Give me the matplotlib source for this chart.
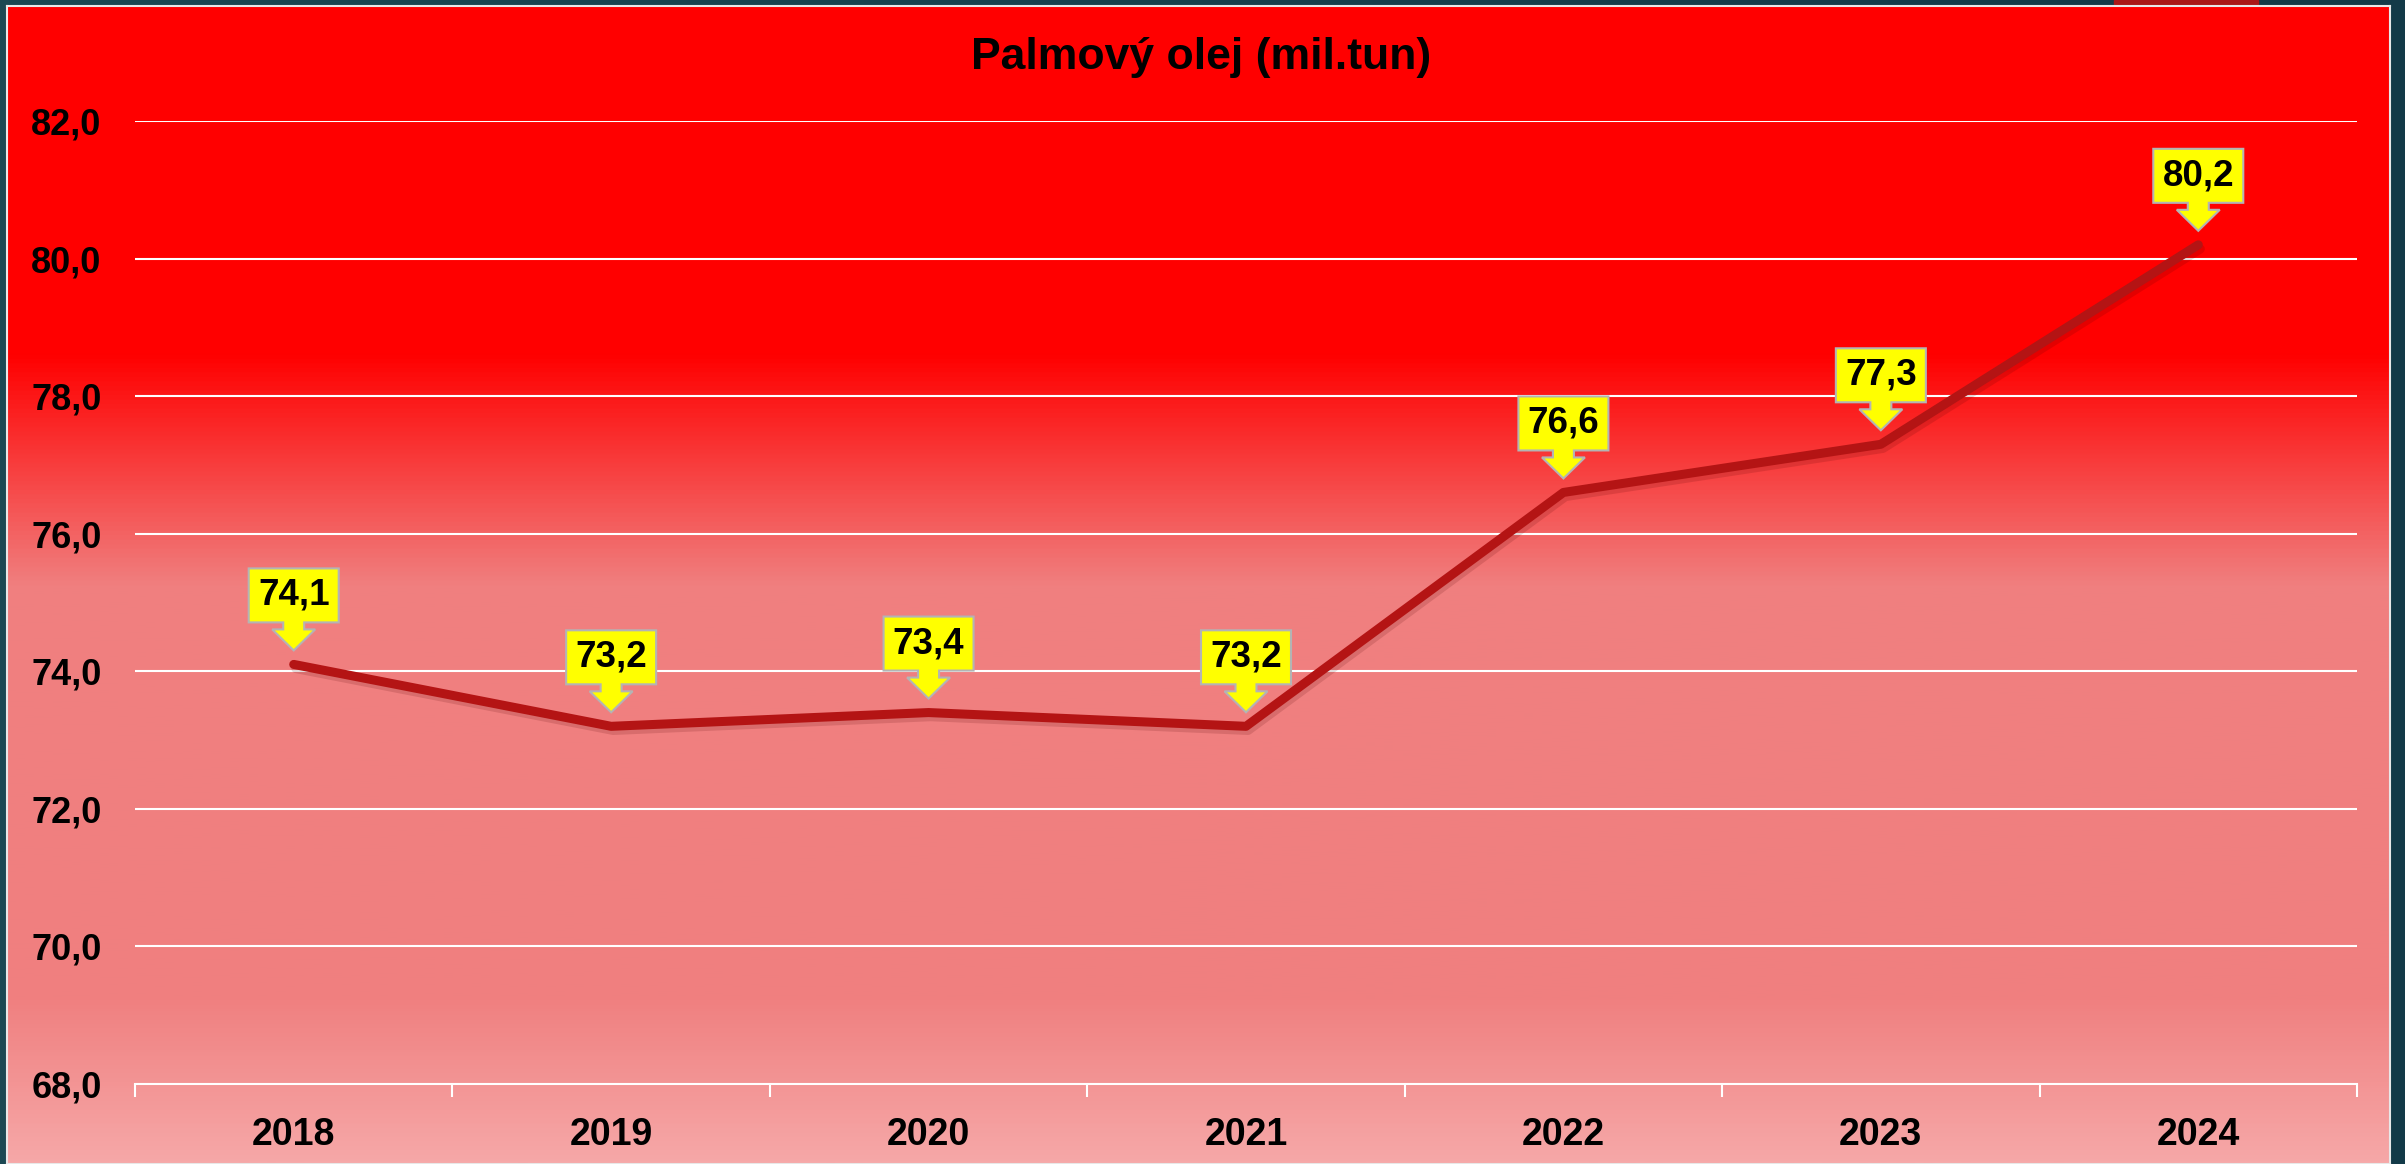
import matplotlib
matplotlib.use("Agg")
import matplotlib.pyplot as plt
import matplotlib.transforms as mtransforms
import matplotlib.patheffects as pe
from matplotlib.colors import LinearSegmentedColormap
from matplotlib.patches import Polygon, Rectangle
import numpy as np

years = ["2018", "2019", "2020", "2021", "2022", "2023", "2024"]
values = [74.1, 73.2, 73.4, 73.2, 76.6, 77.3, 80.2]
labels = ["74,1", "73,2", "73,4", "73,2", "76,6", "77,3", "80,2"]
yticks = [68, 70, 72, 74, 76, 78, 80, 82]
title = "Palmový olej (mil.tun)"

W, H = 2405, 1164
plt.rcParams["font.family"] = ["Liberation Sans", "DejaVu Sans"]
plt.rcParams["font.weight"] = "bold"

fig = plt.figure(figsize=(W / 100, H / 100), dpi=100)

# dark slide background
bg = fig.add_axes([0, 0, 1, 1])
bg.axis("off")
teal = LinearSegmentedColormap.from_list("teal", ["#1c4853", "#133a48"])
bg.imshow(np.linspace(0, 1, 256).reshape(1, -1), cmap=teal, aspect="auto",
          extent=[0, 1, 0, 1])
bg.add_patch(Rectangle((2114 / W, 1 - 6 / H), 144 / W, 6 / H,
                       color="#aa1818", transform=bg.transAxes))
bg.set_xlim(0, 1)
bg.set_ylim(0, 1)

# chart area with vertical gradient
cx0, cx1, cy0 = 7, 2390, 6
ca = fig.add_axes([cx0 / W, 0, (cx1 - cx0) / W, (H - cy0) / H])
ca.set_xticks([])
ca.set_yticks([])
for s in ca.spines.values():
    s.set_color("#e8e8e8")
    s.set_linewidth(1.5)
grad = LinearSegmentedColormap.from_list(
    "grad",
    [(0.0, "#ff0000"), (0.30, "#ff0000"), (0.50, "#f07f7f"),
     (0.86, "#f08080"), (1.0, "#f6a8a8")])
ca.imshow(np.linspace(0, 1, 512).reshape(-1, 1), cmap=grad, aspect="auto",
          extent=[0, 1, 0, 1])
ca.set_xlim(0, 1)
ca.set_ylim(0, 1)

# plot axes
px0, px1 = 135, 2357
py_top, py_bot = 121, 1084
ax = fig.add_axes([px0 / W, (H - py_bot) / H, (px1 - px0) / W,
                   (py_bot - py_top) / H])
ax.patch.set_alpha(0)
x = np.arange(len(years))
ax.set_xlim(-0.5, len(years) - 0.5)
ax.set_ylim(68, 82)

for v in yticks[1:]:
    ax.axhline(v, color="white", lw=1.5, zorder=1)

ax.plot(x, values, color="#b41414", lw=6.5, solid_capstyle="round", zorder=3,
        path_effects=[pe.SimpleLineShadow(offset=(1.5, -3), shadow_color="#500000",
                                          alpha=0.15),
                      pe.Normal()])

for s in ["top", "right", "left"]:
    ax.spines[s].set_visible(False)
ax.spines["bottom"].set_color("white")
ax.spines["bottom"].set_linewidth(1.5)

ax.set_yticks(yticks)
ax.set_yticklabels([f"{v},0" for v in yticks], fontsize=26, fontweight="bold")
ax.tick_params(axis="y", length=0, pad=24)
ax.set_xticks(x)
ax.set_xticklabels(years, fontsize=27, fontweight="bold")
ax.set_xticks(np.arange(len(years) + 1) - 0.5, minor=True)
ax.tick_params(axis="x", which="major", length=0, pad=24)
ax.tick_params(axis="x", which="minor", length=9, width=1.5, color="white")

# callouts (pixel offsets relative to point)
shape = [(-45, 42), (-10.5, 42), (-10.5, 35), (-21.5, 35), (0, 14),
         (21.5, 35), (10.5, 35), (10.5, 42), (45, 42), (45, 96), (-45, 96)]
for xi, v, lab in zip(x, values, labels):
    tr = mtransforms.ScaledTranslation(xi, v, ax.transData)
    poly = Polygon(shape, closed=True, facecolor="#ffff00", edgecolor="#b4b4b4",
                   lw=1.5, transform=tr, clip_on=False, zorder=5)
    ax.add_patch(poly)
    ax.annotate(lab, (xi, v), xytext=(0, 69), textcoords="offset pixels",
                ha="center", va="center", fontsize=26.5, fontweight="bold",
                color="black", zorder=6, annotation_clip=False)

fig.text(1201 / W, 1 - 58 / H, title, ha="center", va="center", fontsize=32,
         fontweight="bold", color="black")

fig.savefig("out.png", dpi=100)
